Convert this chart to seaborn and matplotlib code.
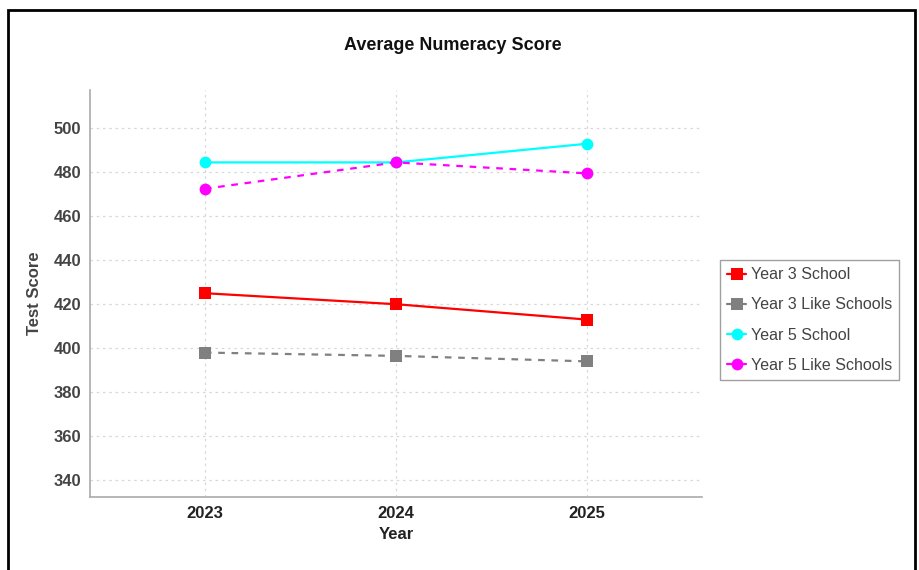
import matplotlib
matplotlib.use("Agg")
import matplotlib.pyplot as plt
from matplotlib.patches import Rectangle
import seaborn as sns
import pandas as pd

# Data
years = [2023, 2024, 2025]
series_names = ["Year 3 School", "Year 3 Like Schools", "Year 5 School", "Year 5 Like Schools"]
year3_school = [425, 420, 413]
year3_like = [398, 396.5, 394]
year5_school = [484.5, 484.5, 493]
year5_like = [472.5, 484.5, 479.5]
y_ticks = [340, 360, 380, 400, 420, 440, 460, 480, 500]

sns.set_style("white")
plt.rcParams["font.family"] = ["Liberation Sans", "DejaVu Sans"]

df = pd.DataFrame({
    "Year": years * 4,
    "Score": year3_school + year3_like + year5_school + year5_like,
    "Series": [s for s in series_names for _ in years],
})

palette = {
    "Year 3 School": "#ff0000",
    "Year 3 Like Schools": "#808080",
    "Year 5 School": "#00ffff",
    "Year 5 Like Schools": "#ff00ff",
}
markers = {
    "Year 3 School": "s",
    "Year 3 Like Schools": "s",
    "Year 5 School": "o",
    "Year 5 Like Schools": "o",
}
dashes = {
    "Year 3 School": "",
    "Year 3 Like Schools": (3, 3),
    "Year 5 School": "",
    "Year 5 Like Schools": (3, 3),
}

fig = plt.figure(figsize=(9.2, 5.7), dpi=100)
ax = fig.add_axes([0.098, 0.128, 0.665, 0.714])

sns.lineplot(
    data=df, x="Year", y="Score", hue="Series", style="Series",
    palette=palette, markers=markers, dashes=dashes,
    markersize=8.5, markeredgewidth=0, linewidth=1.6, ax=ax,
)

ax.set_xlim(2022.4, 2025.6)
ax.set_ylim(332.3, 517.4)
ax.set_xticks(years)
ax.set_xticklabels([str(y) for y in years], fontsize=12, fontweight="bold", color="#222222")
ax.set_yticks(y_ticks)
ax.set_yticklabels([str(v) for v in y_ticks], fontsize=12, fontweight="bold", color="#444444")
ax.tick_params(axis="both", length=3, color="#999999")
ax.set_xlabel("Year", fontsize=12, fontweight="bold", color="#222222")
ax.set_ylabel("Test Score", fontsize=12, fontweight="bold", color="#444444", labelpad=8)
ax.grid(True, linestyle=(0, (2, 3)), color="#d8d8d8", linewidth=0.9)

for side in ["top", "right"]:
    ax.spines[side].set_visible(False)
for side in ["left", "bottom"]:
    ax.spines[side].set_color("#aaaaaa")
    ax.spines[side].set_linewidth(1.2)

fig.text(0.492, 0.921, "Average Numeracy Score", ha="center", va="center",
         fontsize=13, fontweight="bold", color="#111111")

leg = ax.legend(loc="center left", bbox_to_anchor=(1.016, 0.435), fontsize=11.5,
                frameon=True, fancybox=False, handlelength=1.2, handletextpad=0.3,
                borderpad=0.45, labelspacing=0.95, labelcolor="#444444")
leg.get_frame().set_edgecolor("#888888")
leg.get_frame().set_linewidth(1.0)
for h in leg.get_lines():
    h.set_linestyle("-")

# outer frame around the chart
fig.patches.append(Rectangle((0.0087, -0.05), 0.986, 1.0325, transform=fig.transFigure,
                             fill=False, edgecolor="black", linewidth=2))

fig.savefig("out.png", dpi=100)
